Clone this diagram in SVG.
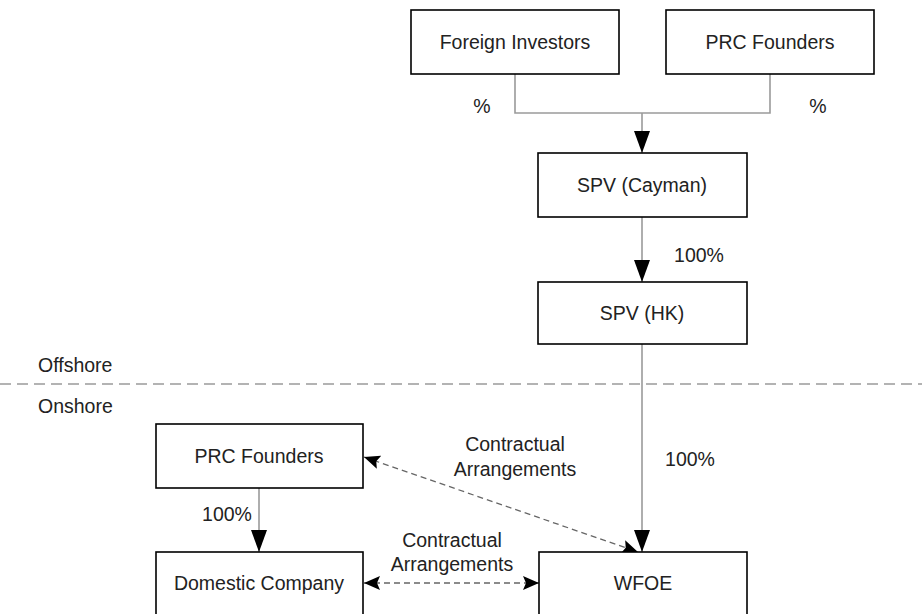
<svg xmlns="http://www.w3.org/2000/svg" width="922" height="614" viewBox="0 0 922 614">
<style>
.box{fill:#fff;stroke:#000;stroke-width:1.6}
text{font-family:"Liberation Sans",Arial,sans-serif;font-size:19.5px;fill:#222}
.c{text-anchor:middle}
.con{fill:none;stroke:#9a9a9a;stroke-width:1.6}
.dash{fill:none;stroke:#666;stroke-width:1.3;stroke-dasharray:6,4}
.sep{fill:none;stroke:#9a9a9a;stroke-width:1.6;stroke-dasharray:11,6}
</style>
<defs>
<marker id="big" markerUnits="userSpaceOnUse" markerWidth="22" markerHeight="16" refX="22" refY="8" orient="auto">
<path d="M0,0 L22,8 L0,16 z" fill="#000"/>
</marker>
<marker id="sm" markerUnits="userSpaceOnUse" markerWidth="16" markerHeight="14" refX="16" refY="7" orient="auto-start-reverse">
<path d="M0,0 L16,7 L0,14 L3,7 z" fill="#000"/>
</marker>
</defs>
<line class="sep" x1="0" y1="384" x2="922" y2="384"/>
<text x="38" y="372">Offshore</text>
<text x="38" y="413">Onshore</text>
<g id="connectors">
<polyline class="con" points="515,74 515,113 770,113 770,74"/>
<line class="con" x1="642" y1="113" x2="642" y2="153" marker-end="url(#big)"/>
<line class="con" x1="642" y1="217" x2="642" y2="282" marker-end="url(#big)"/>
<line class="con" x1="642" y1="344" x2="642" y2="552" marker-end="url(#big)"/>
<line class="con" x1="259" y1="488" x2="259" y2="552" marker-end="url(#big)"/>
<line class="dash" x1="364" y1="457" x2="638" y2="552" marker-start="url(#sm)" marker-end="url(#sm)"/>
<line class="dash" x1="364" y1="583" x2="539" y2="583" marker-start="url(#sm)" marker-end="url(#sm)"/>
<text x="482" y="113" class="c">%</text>
<text x="818" y="113" class="c">%</text>
<text x="699" y="262" class="c">100%</text>
<text x="690" y="466" class="c">100%</text>
<text x="227" y="521" class="c">100%</text>
<text x="515" y="451" class="c">Contractual</text>
<text x="515" y="476" class="c">Arrangements</text>
<text x="452" y="547" class="c">Contractual</text>
<text x="452" y="571" class="c">Arrangements</text>
</g>
<g id="foreign-investors"><rect class="box" x="411" y="10" width="208" height="64"/><text x="515" y="49" class="c">Foreign Investors</text></g>
<g id="prc-founders-top"><rect class="box" x="666" y="10" width="208" height="64"/><text x="770" y="49" class="c">PRC Founders</text></g>
<g id="spv-cayman"><rect class="box" x="538" y="153" width="209" height="64"/><text x="642" y="192" class="c">SPV (Cayman)</text></g>
<g id="spv-hk"><rect class="box" x="538" y="282" width="209" height="62"/><text x="642" y="320" class="c">SPV (HK)</text></g>
<g id="prc-founders"><rect class="box" x="156" y="424" width="207" height="64"/><text x="259" y="463" class="c">PRC Founders</text></g>
<g id="domestic-company"><rect class="box" x="156" y="552" width="207" height="80"/><text x="259" y="590" class="c">Domestic Company</text></g>
<g id="wfoe"><rect class="box" x="539" y="552" width="208" height="80"/><text x="643" y="590" class="c">WFOE</text></g>
</svg>
